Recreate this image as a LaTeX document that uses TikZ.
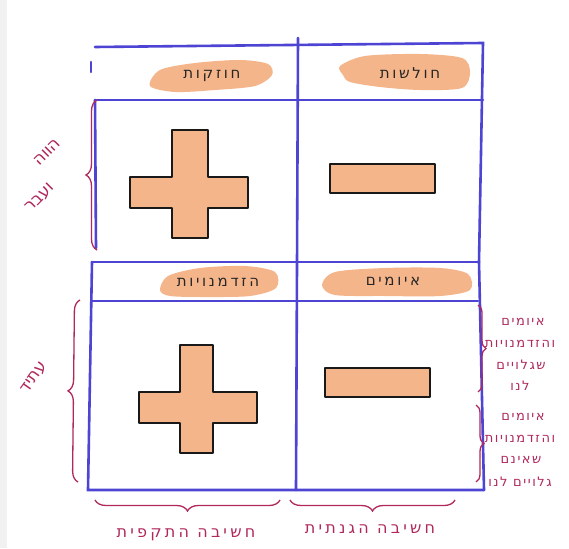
\documentclass[tikz,border=0pt]{standalone}
\usepackage{fontspec}
\newfontfamily\heb[Script=Hebrew]{DejaVu Sans}
\TeXXeTstate=1
\usetikzlibrary{decorations.pathreplacing}
\definecolor{gridblue}{HTML}{4E44D4}
\definecolor{note}{HTML}{B0285C}
\definecolor{peach}{HTML}{F5B58A}
\definecolor{strip}{HTML}{F1F1F1}
\begin{document}
\begin{tikzpicture}[x=1pt,y=-1pt,
  grid/.style={gridblue,line width=2.6pt,line cap=round},
  brc/.style={note,line width=1.3pt,decorate,decoration={brace,amplitude=11pt,aspect=0.5}},
  hdr/.style={font=\heb\fontsize{15}{17}\selectfont\addfontfeature{LetterSpace=18},text=black!85,inner sep=1pt},
  lbl/.style={font=\heb\fontsize{13}{15}\selectfont\addfontfeature{LetterSpace=12},text=note,inner sep=1pt},
  big/.style={font=\heb\fontsize{16}{18}\selectfont\addfontfeature{LetterSpace=20},text=note,inner sep=1pt},
  rot/.style={font=\heb\fontsize{17}{19}\selectfont,text=note,inner sep=1pt},
  blob/.style={fill=peach,draw=none},
  sign/.style={fill=peach,draw=black!90,line width=1.4pt,line join=round},
]
\useasboundingbox (0,0) rectangle (569,548);
\fill[white] (0,0) rectangle (569,548);
\fill[strip] (0,0) rectangle (7,548);

% grid corner coordinates
\coordinate (tl) at (95,47);
\coordinate (tr) at (483,43);
\coordinate (hl) at (95,100);
\coordinate (hr) at (483,100);
\coordinate (ml) at (92,262);
\coordinate (mr) at (479,262);
\coordinate (nl) at (92,301);
\coordinate (nr) at (478,301);
\coordinate (bl) at (88,490);
\coordinate (br) at (484,490);
\coordinate (vt) at (298,38);
\coordinate (vb) at (296,490);
\coordinate (tickA) at (91,62);
\coordinate (tickB) at (91,72);
\coordinate (lu) at (96,248);

% orange brush strokes behind headers
\path[blob] plot[smooth cycle] coordinates {(150,86) (160,70) (195,63) (240,60) (268,64) (272,75) (255,86) (215,90) (175,92)};
\path[blob] plot[smooth cycle] coordinates {(340,66) (365,56) (420,54) (462,58) (470,72) (462,88) (420,90) (380,87) (350,82) (343,75)};
\path[blob] plot[smooth cycle] coordinates {(160,290) (168,276) (200,268) (245,266) (275,272) (276,288) (250,296) (205,297) (170,296)};
\path[blob] plot[smooth cycle] coordinates {(322,285) (335,272) (385,268) (440,268) (468,274) (470,290) (440,296) (385,296) (335,295)};

% grid lines
\draw[grid] (tl) -- (tr) -- (mr);
\draw[grid] (hl) -- (hr);
\draw[grid] (tickA) -- (tickB);
\draw[grid] (hl) -- (lu);
\draw[grid] (vt) -- (vb);
\draw[grid] (ml) -- (mr);
\draw[grid] (nl) -- (nr);
\draw[grid] (ml) -- (bl) -- (br);
\draw[grid] (mr) -- (br);

% headers
\node[hdr] (s) at (212,76) {\beginR חוזקות\endR};
\node[hdr] (w) at (410,73) {\beginR חולשות\endR};
\node[hdr] (o) at (218,282) {\beginR הזדמנויות\endR};
\node[hdr] (t) at (393,281) {\beginR איומים\endR};

% plus / minus signs
\draw[sign] (172,130) -- (208,130) -- (208,177) -- (248,177) -- (248,208) -- (208,208) -- (208,238) -- (172,238) -- (172,208) -- (130,208) -- (130,177) -- (172,177) -- cycle;
\draw[sign] (180,345) -- (213,345) -- (213,392) -- (257,392) -- (257,423) -- (213,423) -- (213,453) -- (180,453) -- (180,423) -- (139,423) -- (139,392) -- (180,392) -- cycle;
\draw[sign] (330,164) rectangle (435,193);
\draw[sign] (325,368) rectangle (430,397);

% braces
\coordinate (b1a) at (97,250);
\coordinate (b1b) at (97,100);
\draw[brc] (b1a) -- (b1b);
\coordinate (b2a) at (78,482);
\coordinate (b2b) at (80,300);
\draw[brc] (b2a) -- (b2b);
\coordinate (b3a) at (478,305);
\coordinate (b3b) at (478,392);
\draw[brc,decoration={amplitude=8pt}] (b3a) -- (b3b);
\coordinate (b4a) at (476,405);
\coordinate (b4b) at (476,482);
\draw[brc,decoration={amplitude=8pt}] (b4a) -- (b4b);
\coordinate (b5a) at (280,500);
\coordinate (b5b) at (95,500);
\draw[brc] (b5a) -- (b5b);
\coordinate (b6a) at (455,500);
\coordinate (b6b) at (290,500);
\draw[brc] (b6a) -- (b6b);

% side labels
\node[rot,rotate=45] (pp1) at (47,152) {\beginR הווה\endR};
\node[rot,rotate=45] (pp2) at (40,198) {\beginR ועבר\endR};
\node[rot,rotate=55] (fut) at (34,378) {\beginR עתיד\endR};

\node[lbl] (r1) at (523,322) {\beginR איומים\endR};
\node[lbl] (r2) at (520,344) {\beginR והזדמנויות\endR};
\node[lbl] (r3) at (521,365) {\beginR שגלויים\endR};
\node[lbl] (r4) at (520,386) {\beginR לנו\endR};
\node[lbl] (q1) at (523,417) {\beginR איומים\endR};
\node[lbl] (q2) at (520,439) {\beginR והזדמנויות\endR};
\node[lbl] (q3) at (521,460) {\beginR שאינם\endR};
\node[lbl] (q4) at (520,482) {\beginR גלויים לנו\endR};

\node[big] (off) at (186,535) {\beginR חשיבה התקפית\endR};
\node[big] (def) at (370,529) {\beginR חשיבה הגנתית\endR};
\end{tikzpicture}
\end{document}
